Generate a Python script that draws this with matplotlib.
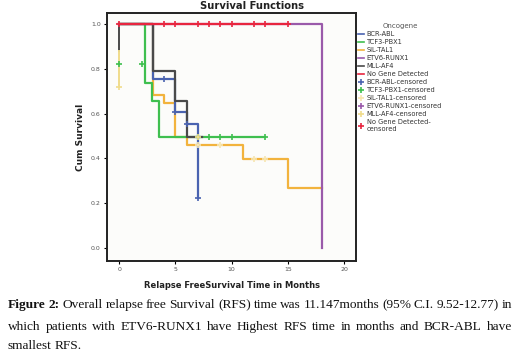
import matplotlib
matplotlib.use("Agg")
import matplotlib.pyplot as plt
from matplotlib.lines import Line2D

# ---- data ----
groups = ["BCR-ABL", "TCF3-PBX1", "SIL-TAL1", "ETV6-RUNX1", "MLL-AF4", "No Gene Detected"]
colors = ["#4a63b0", "#3fbf4f", "#f2b33d", "#9a5aaa", "#4a4a4a", "#e8253f"]
cens_colors = ["#4a63b0", "#3fbf4f", "#f7e6b0", "#9a5aaa", "#f0dc8c", "#e8253f"]

bcr_t = [0, 3, 5, 6, 7]
bcr_s = [1.0, 0.756, 0.606, 0.551, 0.22]
bcr_end = 7
bcr_ct = [4, 5, 6, 7]
bcr_cs = [0.756, 0.606, 0.551, 0.22]

tcf_t = [0, 2.3, 2.95, 3.5]
tcf_s = [1.0, 0.738, 0.656, 0.493]
tcf_end = 13
tcf_ct = [0, 2, 7, 8, 9, 10, 13]
tcf_cs = [0.82, 0.82, 0.493, 0.493, 0.493, 0.493, 0.493]

sil_t = [0, 3, 4, 5, 6, 11, 15]
sil_s = [1.0, 0.684, 0.648, 0.495, 0.459, 0.398, 0.266]
sil_end = 18
sil_ct = [7, 9, 12, 13]
sil_cs = [0.459, 0.459, 0.398, 0.398]

etv_t = [0, 18]
etv_s = [1.0, 0.0]
etv_end = 18
etv_ct = []
etv_cs = []

mll_t = [0, 3, 5, 6]
mll_s = [1.0, 0.789, 0.657, 0.493]
mll_end = 7.4
mll_ct = [0, 7]
mll_cs = [0.72, 0.493]

ngd_t = [0]
ngd_s = [1.0]
ngd_end = 15
ngd_ct = [0, 4, 5, 7, 8, 9, 10, 12, 13, 15]
ngd_cs = [1.0] * 10

x_ticks = [0, 5, 10, 15, 20]
y_ticks = [0.0, 0.2, 0.4, 0.6, 0.8, 1.0]

caption_lines = [
    [("Figure 2:", True), ("Overall relapse free Survival (RFS) time was 11.147months (95% C.I. 9.52-12.77) in", False)],
    [("which patients with ETV6-RUNX1 have Highest RFS time in months and BCR-ABL have", False)],
    [("smallest RFS.", False)],
]

curves = [
    (bcr_t, bcr_s, bcr_end, bcr_ct, bcr_cs),
    (tcf_t, tcf_s, tcf_end, tcf_ct, tcf_cs),
    (sil_t, sil_s, sil_end, sil_ct, sil_cs),
    (etv_t, etv_s, etv_end, etv_ct, etv_cs),
    (mll_t, mll_s, mll_end, mll_ct, mll_cs),
    (ngd_t, ngd_s, ngd_end, ngd_ct, ngd_cs),
]

fig = plt.figure(figsize=(5.2, 3.6), dpi=100)
fig.patch.set_facecolor("white")
ax = fig.add_axes([0.206, 0.275, 0.479, 0.689])
ax.set_facecolor("#fcfcfa")

# drawing order so that red lies on top of purple etc.
order = [2, 1, 0, 4, 3, 5]
for i in order:
    t, s, end, ct, cs = curves[i]
    xs = list(t) + [end]
    ys = list(s) + [s[-1]]
    ax.step(xs, ys, where="post", color=colors[i], lw=1.6, zorder=2 + order.index(i))
for i in order:
    t, s, end, ct, cs = curves[i]
    if ct:
        ax.plot(ct, cs, ls="none", marker="+", ms=5, mew=1.2, color=cens_colors[i],
                zorder=10 + order.index(i))

# vertical segment at time 0 seen in the picture
ax.plot([0, 0], [1.0, 0.88], color="#4a4a4a", lw=1.4, zorder=3)
ax.plot([0, 0], [0.88, 0.72], color="#f0dc8c", lw=1.4, zorder=3)

ax.set_xlim(-1.07, 21.07)
ax.set_ylim(-0.06, 1.05)
ax.set_xticks(x_ticks)
ax.set_xticklabels([str(v) for v in x_ticks])
ax.set_yticks(y_ticks)
ax.set_yticklabels([f"{v:.1f}" for v in y_ticks])
ax.tick_params(direction="out", length=2.5, width=0.8, labelsize=4.5, labelcolor="#555555", pad=2)
for sp in ax.spines.values():
    sp.set_linewidth(1.4)
    sp.set_color("#222222")

ax.set_title("Survival Functions", fontsize=7.2, fontweight="bold", x=0.58, pad=3, color="#222222")
ax.set_ylabel("Cum Survival", fontsize=6.5, fontweight="bold", labelpad=4, color="#222222")
ax.set_xlabel("Relapse FreeSurvival Time in Months", fontsize=6, fontweight="bold", labelpad=6, color="#222222")

# legend
handles = []
labels = []
for i, g in enumerate(groups):
    handles.append(Line2D([], [], color=colors[i], lw=1.2))
    labels.append(g)
for i, g in enumerate(groups):
    handles.append(Line2D([], [], ls="none", marker="+", ms=5, mew=1.2, color=cens_colors[i]))
    labels.append(g + "-censored" if i < 5 else "No Gene Detected-\ncensored")
leg = fig.legend(handles, labels, title="Oncogene", loc="upper left",
                 bbox_to_anchor=(0.685, 0.94), frameon=False, fontsize=4.8,
                 title_fontsize=5, handlelength=1.0, handletextpad=0.4,
                 labelspacing=0.3, borderaxespad=0, borderpad=0.2)
for t in leg.get_texts():
    t.set_color("#333333")
leg.get_title().set_color("#555555")

# caption, justified lines
fig.canvas.draw()
renderer = fig.canvas.get_renderer()
left_px, right_px = 8, 512
line_y = [305, 327, 346]
for li, parts in enumerate(caption_lines):
    words = []
    for txt, bold in parts:
        for w in txt.split(" "):
            words.append((w, bold))
    ypix = line_y[li]
    yfig = 1 - ypix / 360.0
    arts = []
    widths = []
    for w, bold in words:
        a = fig.text(0, yfig, w, fontsize=9.6, family="Liberation Serif",
                     fontweight="bold" if bold else "normal", va="center", ha="left", color="#111111")
        bb = a.get_window_extent(renderer)
        arts.append(a)
        widths.append(bb.width)
    space = 2.6
    if li < len(caption_lines) - 1 and len(words) > 1:
        space = (right_px - left_px - sum(widths)) / (len(words) - 1)
    x = left_px
    for a, wdt in zip(arts, widths):
        a.set_x(x / 520.0)
        x += wdt + space

fig.savefig("out.png", dpi=100, facecolor="white")
